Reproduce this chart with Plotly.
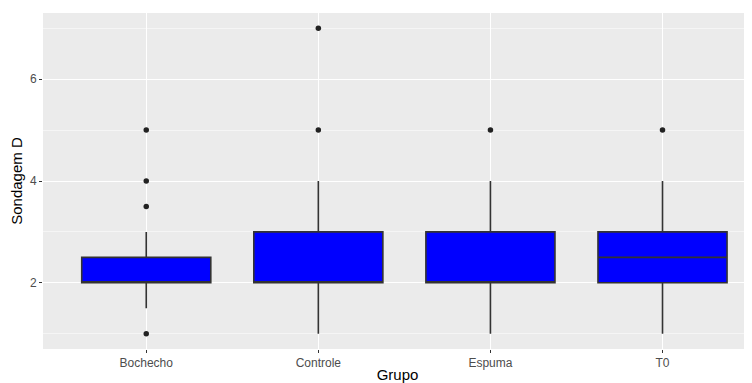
import plotly.graph_objects as go

groups = ["Bochecho", "Controle", "Espuma", "T0"]
q1 = [2, 2, 2, 2]
median = [2, 2, 2, 2.5]
q3 = [2.5, 3, 3, 3]
lower_whisker = [1.5, 1, 1, 1]
upper_whisker = [3, 4, 4, 4]
outlier_groups = ["Bochecho", "Bochecho", "Bochecho", "Bochecho", "Controle", "Controle", "Espuma", "T0"]
outlier_values = [1, 3.5, 4, 5, 5, 7, 5, 5]

fig = go.Figure()
fig.add_trace(go.Box(
    x=groups, q1=q1, median=median, q3=q3,
    lowerfence=lower_whisker, upperfence=upper_whisker,
    fillcolor="#0000FF", line=dict(color="#333333", width=1.6),
    width=0.75, whiskerwidth=0, boxpoints=False, hoverinfo="skip",
    showlegend=False,
))
fig.add_trace(go.Scatter(
    x=outlier_groups, y=outlier_values, mode="markers",
    marker=dict(color="#222222", size=5.5), showlegend=False,
))

# the page body has an 8px margin, so the figure is offset by 8px
fig.update_layout(
    width=744, height=375,
    margin=dict(l=35, r=0, t=5, b=34, autoexpand=False),
    paper_bgcolor="white", plot_bgcolor="#EBEBEB",
    font=dict(family="Liberation Sans, Arial, sans-serif"),
)
fig.update_xaxes(
    type="category", categoryorder="array", categoryarray=groups,
    range=[-0.6, 3.52], showgrid=True, gridcolor="white", gridwidth=1.2,
    ticks="outside", ticklen=3, tickcolor="#333333", tickwidth=1,
    tickfont=dict(size=12, color="#4D4D4D"), zeroline=False, automargin=False,
    title=dict(text="Grupo", font=dict(size=15, color="black"), standoff=0),
)
fig.update_yaxes(
    range=[0.7, 7.3], tickvals=[2, 4, 6], showgrid=True, gridcolor="white", gridwidth=1.2,
    minor=dict(tickvals=[1, 3, 5, 7], showgrid=True, gridcolor="#F5F5F5", gridwidth=0.6),
    ticks="outside", ticklen=3, tickcolor="#333333", tickwidth=1,
    tickfont=dict(size=12, color="#4D4D4D"), zeroline=False, automargin=False,
    title=dict(text="Sondagem D", font=dict(size=15, color="black"), standoff=3),
)

fig.write_html("out.html")
